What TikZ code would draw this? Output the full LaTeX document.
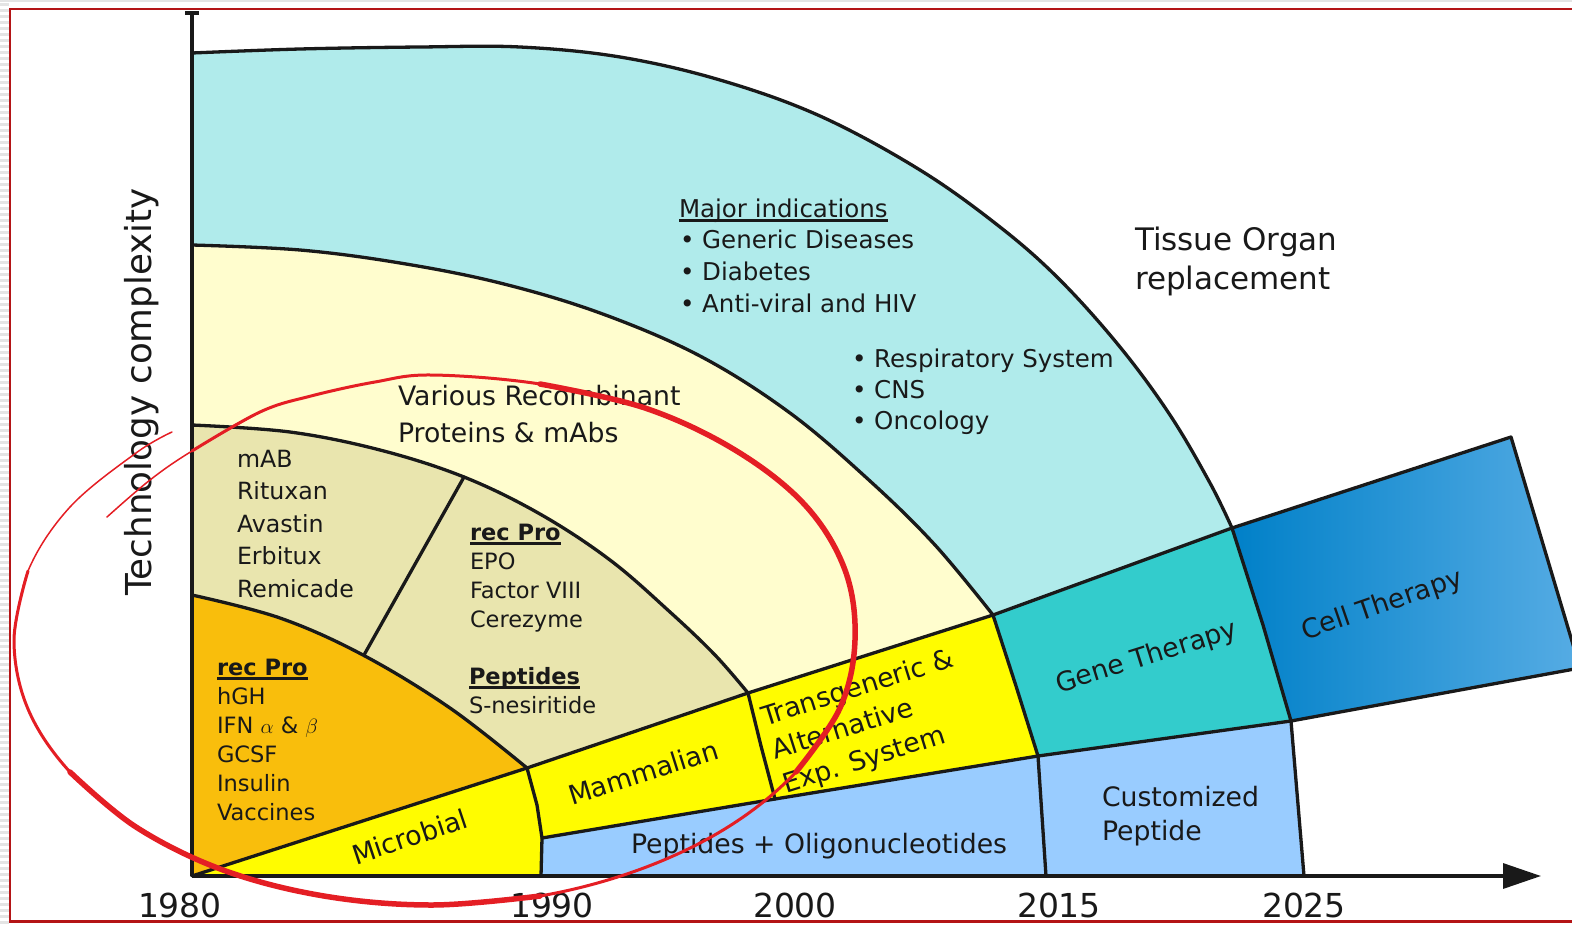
\documentclass[tikz,border=0pt]{standalone}
\usepackage{fontspec}
\setmainfont{DejaVu Sans}
\usetikzlibrary{arrows.meta}

\definecolor{inkc}{RGB}{25,25,25}
\definecolor{cyanfill}{RGB}{176,235,235}
\definecolor{creamfill}{RGB}{255,253,206}
\definecolor{khakifill}{RGB}{233,229,174}
\definecolor{amberfill}{RGB}{249,190,12}
\definecolor{lemonfill}{RGB}{255,252,0}
\definecolor{skyfill}{RGB}{153,204,255}
\definecolor{tealfill}{RGB}{51,204,204}
\definecolor{celldark}{RGB}{0,128,200}
\definecolor{celllight}{RGB}{86,172,228}
\definecolor{framered}{RGB}{180,20,22}
\definecolor{markred}{RGB}{228,30,36}
\definecolor{pagegray}{RGB}{228,228,228}

\newcommand{\fsList}{\fontsize{24.5}{29}\selectfont}
\newcommand{\fsSmall}{\fontsize{22.5}{27}\selectfont}
\newcommand{\fsMab}{\fontsize{23.7}{28}\selectfont}
\newcommand{\fsLabel}{\fontsize{26.7}{32}\selectfont}
\newcommand{\fsTissue}{\fontsize{31}{36}\selectfont}
\newcommand{\fsYear}{\fontsize{33}{38}\selectfont}
\newcommand{\fsAxis}{\fontsize{35.7}{40}\selectfont}
\newcommand{\undl}[1]{\setbox0=\hbox{#1}\rlap{\vrule width \wd0 height -2.4pt depth 4.6pt}\box0}

\begin{document}
\begin{tikzpicture}[x=1pt,y=-1pt,
  lbl/.style={inner sep=0pt,outer sep=0pt,anchor=base west,text=inkc},
  outline/.style={draw=inkc,line width=3.3pt,line join=round,line cap=round},
  redpen/.style={draw=markred,line cap=round,line join=round}]

\useasboundingbox (0,0) rectangle (1572,924);
\clip (0,0) rectangle (1572,924);

% page edge outside the frame
\fill[pagegray] (0,0) rectangle (9,924);
\foreach \yy in {0,6,...,924} \fill[white] (0,\yy) rectangle (9,\yy+3);
\fill[pagegray] (0,0) rectangle (1572,2);

% key points of the chart
\coordinate (O) at (192,876);
\coordinate (Ytop) at (192,13);
\coordinate (Xtip) at (1541,876);
\coordinate (R1) at (527,768);
\coordinate (R2) at (748,693);
\coordinate (R3) at (993,615);
\coordinate (R4) at (1232,528);
\coordinate (R5) at (1511,437);
\coordinate (L1) at (542,838);
\coordinate (L2) at (775,799);
\coordinate (L3) at (1038,756);
\coordinate (L4) at (1291,721);
\coordinate (L5) at (1580,668);
\coordinate (A1) at (541,876);
\coordinate (A3) at (1046,876);
\coordinate (A4) at (1304,876);
\coordinate (M1) at (537,805);
\coordinate (M2) at (761,746);
\coordinate (M3) at (1016,686);
\coordinate (M4) at (1263,625);
\coordinate (D1) at (464,477);
\coordinate (D2) at (364,655);

% quarter bands, outer to inner
\fill[cyanfill] (O) -- plot[smooth,tension=0.6] coordinates {(192,53) (300,49) (420,47) (520,47) (620,57) (720,80) (820,116) (920,170) (1000,227) (1060,280) (1120,347) (1170,415) (1210,483) (1232,528)} -- (R3) -- (R2) -- (R1) -- cycle;
\fill[creamfill] (O) -- plot[smooth,tension=0.6] coordinates {(192,245) (300,250) (400,263) (500,283) (600,313) (700,356) (790,413) (870,481) (935,545) (993,615)} -- (R2) -- (R1) -- cycle;
\fill[khakifill] (O) -- plot[smooth,tension=0.6] coordinates {(192,425) (290,432) (380,450) (464,477) (540,514) (610,560) (670,612) (715,655) (748,693)} -- (R1) -- cycle;
\fill[amberfill] (O) -- plot[smooth,tension=0.6] coordinates {(192,595) (280,618) (363,655) (450,708) (527,768)} -- cycle;

% expression-system wedges
\fill[lemonfill] (O) -- (R1) -- (M1) -- (L1) -- (A1) -- cycle;
\fill[lemonfill] (R1) -- (R2) -- (M2) -- (L2) -- (L1) -- (M1) -- cycle;
\fill[lemonfill] (R2) -- (R3) -- (M3) -- (L3) -- (L2) -- (M2) -- cycle;
\fill[tealfill] (R3) -- (R4) -- (M4) -- (L4) -- (L3) -- (M3) -- cycle;
\shade[left color=celldark,right color=celllight] (R4) -- (R5) -- (L5) -- (L4) -- (M4) -- cycle;
\fill[skyfill] (A1) -- (L1) -- (L2) -- (L3) -- (A3) -- cycle;
\fill[skyfill] (A3) -- (L3) -- (L4) -- (A4) -- cycle;

% outlines
\draw[outline] plot[smooth,tension=0.6] coordinates {(192,53) (300,49) (420,47) (520,47) (620,57) (720,80) (820,116) (920,170) (1000,227) (1060,280) (1120,347) (1170,415) (1210,483) (1232,528)};
\draw[outline] plot[smooth,tension=0.6] coordinates {(192,245) (300,250) (400,263) (500,283) (600,313) (700,356) (790,413) (870,481) (935,545) (993,615)};
\draw[outline] plot[smooth,tension=0.6] coordinates {(192,425) (290,432) (380,450) (464,477) (540,514) (610,560) (670,612) (715,655) (748,693)};
\draw[outline] plot[smooth,tension=0.6] coordinates {(192,595) (280,618) (363,655) (450,708) (527,768)};
\draw[outline] (O) -- (R1) -- (R2) -- (R3) -- (R4) -- (R5) -- (L5);
\draw[outline] (L1) -- (L2) -- (L3) -- (L4) -- (L5);
\draw[outline] (R1) -- (M1) -- (L1) -- (A1);
\draw[outline] (R2) -- (M2) -- (L2);
\draw[outline] (R3) -- (M3) -- (L3) -- (A3);
\draw[outline] (R4) -- (M4) -- (L4) -- (A4);
\draw[outline] (D1) -- (D2);

% axes
\draw[outline,line cap=butt] (O) -- (Ytop);
\draw[outline,line cap=butt] (185,13) -- (199,13);
\draw[outline,line cap=butt,-{Triangle[length=38pt,width=25pt]}] (O) -- (Xtip);

% axis title and years
\node[lbl,anchor=base,rotate=90,font=\fsAxis] (ytitle) at (151,392) {Technology complexity};
\node[lbl,anchor=base,font=\fsYear] (y1980) at (180,917) {1980};
\node[lbl,anchor=base,font=\fsYear] (y1990) at (552,917) {1990};
\node[lbl,anchor=base,font=\fsYear] (y2000) at (795,917) {2000};
\node[lbl,anchor=base,font=\fsYear] (y2015) at (1059,917) {2015};
\node[lbl,anchor=base,font=\fsYear] (y2025) at (1304,917) {2025};

% indications
\node[lbl,font=\fsList] (mi) at (679,217) {\undl{Major indications}};
\foreach \t [count=\i from 0] in {Generic Diseases,Diabetes,Anti-viral and HIV}
  \node[lbl,font=\fsList] (indA\i) at (680,248+32*\i) {• \t};
\foreach \t [count=\i from 0] in {Respiratory System,CNS,Oncology}
  \node[lbl,font=\fsList] (indB\i) at (852,367+31*\i) {• \t};

\node[lbl,font=\fsTissue] (tis1) at (1135,250) {Tissue Organ};
\node[lbl,font=\fsTissue] (tis2) at (1135,289) {replacement};

\node[lbl,font=\fsLabel] (var1) at (398,405) {Various Recombinant};
\node[lbl,font=\fsLabel] (var2) at (398,442) {Proteins \& mAbs};

% antibody list
\foreach \t [count=\i from 0] in {mAB,Rituxan,Avastin,Erbitux,Remicade}
  \node[lbl,font=\fsMab] (mab\i) at (237,467+32.5*\i) {\t};

% recombinant proteins, second generation
\node[lbl,font=\fsSmall\bfseries] (rp2) at (470,540) {\undl{rec Pro}};
\foreach \t [count=\i from 0] in {EPO,Factor VIII,Cerezyme}
  \node[lbl,font=\fsSmall] (rpb\i) at (470,569+29*\i) {\t};
\node[lbl,font=\fsSmall\bfseries] (pep) at (469,684) {\undl{Peptides}};
\node[lbl,font=\fsSmall] (snes) at (469,713) {S-nesiritide};

% recombinant proteins, first generation
\node[lbl,font=\fsSmall\bfseries] (rp1) at (217,675) {\undl{rec Pro}};
\foreach \t [count=\i from 0] in {hGH,IFN $\alpha$ \& $\beta$,GCSF,Insulin,Vaccines}
  \node[lbl,font=\fsSmall] (rpa\i) at (217,704+29*\i) {\t};

% wedge labels
\node[lbl,font=\fsLabel,rotate=18.5] (micro) at (356,865) {Microbial};
\node[lbl,font=\fsLabel,rotate=17.5] (mamm) at (572,805) {Mammalian};
\node[lbl,font=\fsLabel,rotate=17.5] (tg1) at (765,726) {Transgeneric \&};
\node[lbl,font=\fsLabel,rotate=17.5] (tg2) at (775.5,759.5) {Alternative};
\node[lbl,font=\fsLabel,rotate=17.5] (tg3) at (786,793) {Exp. System};
\node[lbl,font=\fsLabel,rotate=17.5] (gene) at (1059,693) {Gene Therapy};
\node[lbl,font=\fsLabel,rotate=19] (cell) at (1305,640) {Cell Therapy};
\node[lbl,font=\fsLabel] (cus1) at (1102,806) {Customized};
\node[lbl,font=\fsLabel] (cus2) at (1102,840) {Peptide};
\node[lbl,font=\fsLabel] (oligo) at (631,853) {Peptides + Oligonucleotides};

% hand-drawn red loop, stroke width varying along the pen path
\draw[redpen,line width=1.5pt] plot[smooth,tension=0.6] coordinates {(107,517) (150,480) (192,451) (260,412)};
\draw[redpen,line width=3pt] plot[smooth,tension=0.6] coordinates {(192,451) (260,412) (311,396) (375,382) (432,375) (540,384) (645,408)};
\draw[redpen,line width=5.5pt] plot[smooth,tension=0.6] coordinates {(540,384) (645,408) (735,450) (805,505) (845,570) (855,640) (840,708) (796,772)};
\draw[redpen,line width=3pt] plot[smooth,tension=0.6] coordinates {(840,708) (796,772) (728,827) (641,869) (540,896) (432,905)};
\draw[redpen,line width=5.5pt] plot[smooth,tension=0.6] coordinates {(540,896) (432,905) (324,896) (223,870) (136,827) (70,772)};
\draw[redpen,line width=3pt] plot[smooth,tension=0.6] coordinates {(136,827) (70,772) (28,709) (14,640) (28,571)};
\draw[redpen,line width=1.5pt] plot[smooth,tension=0.6] coordinates {(14,640) (28,571) (70,507) (136,453) (172,432)};

% frame
\draw[framered,line width=2.6pt] (10,9) rectangle (1600,921.5);
\end{tikzpicture}
\end{document}
